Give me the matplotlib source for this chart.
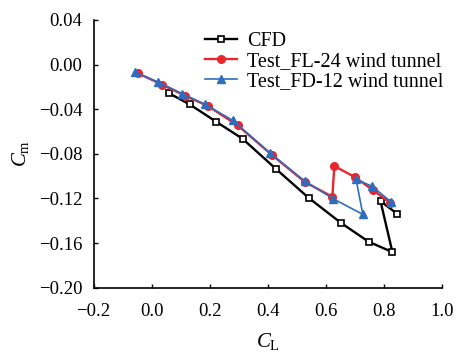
import numpy as np
import matplotlib
matplotlib.use('Agg')
import matplotlib.pyplot as plt

# CL / Cm curves
cfd_cl = [0.060, 0.132, 0.222, 0.314, 0.428, 0.541, 0.652, 0.748, 0.830, 0.789, 0.846]
cfd_cm = [-0.0257, -0.0358, -0.0511, -0.0666, -0.0934, -0.1194, -0.1418, -0.1588, -0.1681, -0.1224, -0.1337]

fl24_cl = [-0.048, 0.036, 0.114, 0.195, 0.297, 0.414, 0.529, 0.623, 0.630, 0.701, 0.764, 0.822]
fl24_cm = [-0.0078, -0.0179, -0.0278, -0.0373, -0.0546, -0.0809, -0.1054, -0.1185, -0.0910, -0.1009, -0.1128, -0.1239]

fd12_cl = [-0.057, 0.023, 0.105, 0.185, 0.279, 0.409, 0.528, 0.626, 0.728, 0.705, 0.759, 0.825]
fd12_cm = [-0.0069, -0.0158, -0.0260, -0.0358, -0.0499, -0.0794, -0.1045, -0.1203, -0.1343, -0.1030, -0.1090, -0.1230]

plt.rcParams['font.family'] = 'Liberation Serif'
plt.rcParams['mathtext.fontset'] = 'custom'
plt.rcParams['mathtext.rm'] = 'Liberation Serif'
plt.rcParams['mathtext.it'] = 'Liberation Serif:italic'

fig = plt.figure(figsize=(4.57, 3.58), dpi=100)
ax = fig.add_axes([0.2046, 0.1964, 0.762, 0.748])

ax.plot(cfd_cl, cfd_cm, color='black', lw=1.7, marker='s', ms=5,
        mfc='white', mec='black', mew=1.2, label='CFD')
ax.plot(fl24_cl, fl24_cm, color='#e8262e', lw=1.7, marker='o', ms=5.5,
        label='Test_FL-24 wind tunnel')
ax.plot(fd12_cl, fd12_cm, color='#2f6dbd', lw=1.2, marker='^', ms=6,
        label='Test_FD-12 wind tunnel')

def fmt(d):
    # real minus sign instead of a hyphen
    return matplotlib.ticker.FuncFormatter(lambda v, p: f'{v:.{d}f}'.replace('-', '\u2212'))

ax.set_xlim(-0.2, 1.0)
ax.set_ylim(-0.20, 0.04)
ax.set_xticks(np.arange(-0.2, 1.01, 0.2))
ax.set_yticks(np.arange(-0.20, 0.041, 0.04))
ax.xaxis.set_major_formatter(fmt(1))
ax.yaxis.set_major_formatter(fmt(2))
ax.tick_params(direction='in', labelsize=13.5, length=3, width=1)
ax.tick_params(axis='x', pad=11)
ax.tick_params(axis='y', pad=8)

for s in ['top', 'right']:
    ax.spines[s].set_visible(False)
for s in ['left', 'bottom']:
    ax.spines[s].set_linewidth(1.2)

ax.set_xlabel(r'$C_{\mathrm{L}}$', fontsize=15, labelpad=8)
ax.set_ylabel(r'$C_{\mathrm{m}}$', fontsize=15, labelpad=6)

fig.legend(loc='upper left', bbox_to_anchor=(205 / 457, 1 - 32 / 358),
           frameon=False, fontsize=14.5, handlelength=1.6, handletextpad=0.5,
           labelspacing=0.05, borderpad=0, borderaxespad=0)

fig.savefig('out.png', dpi=100)
